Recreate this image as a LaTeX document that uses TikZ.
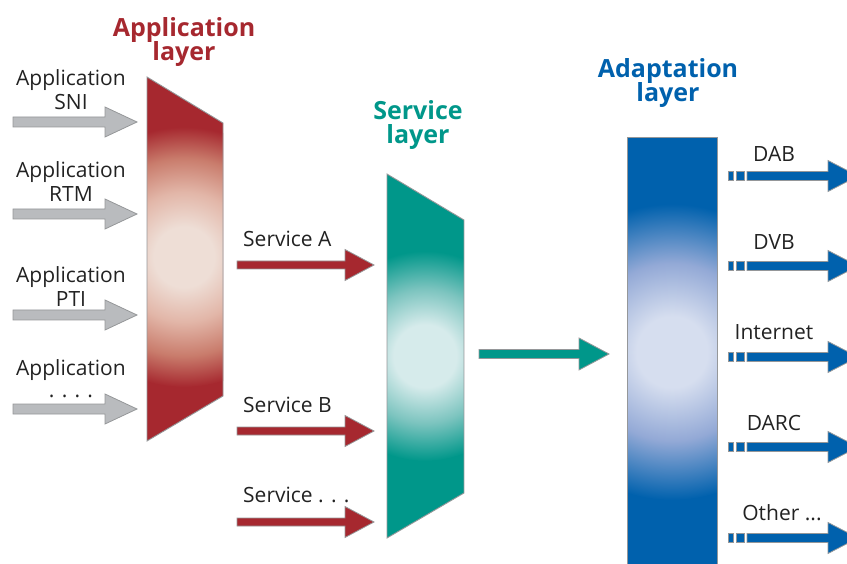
\documentclass[tikz,border=0pt]{standalone}
\usepackage{fontspec}
\setmainfont{Open Sans}
\definecolor{appD}{HTML}{A6282F}
\definecolor{appM1}{HTML}{E2B6A8}
\definecolor{appM2}{HTML}{C97C6C}
\definecolor{appL}{HTML}{EEDED6}
\definecolor{srvD}{HTML}{00978A}
\definecolor{srvM}{HTML}{7CC4BF}
\definecolor{srvL}{HTML}{D6EBEB}
\definecolor{adpD}{HTML}{0061AD}
\definecolor{adpM}{HTML}{93A9D6}
\definecolor{adpL}{HTML}{D6DEEF}
\definecolor{arrGray}{HTML}{B9BBBE}
\definecolor{edgeGray}{HTML}{959799}
\definecolor{txt}{HTML}{222222}
\pgfdeclareradialshading{appshade}{\pgfpoint{0bp}{0bp}}{color(0bp)=(appL); color(5.8bp)=(appL); color(12.5bp)=(appM1); color(19bp)=(appM2); color(25bp)=(appD); color(50bp)=(appD)}
\pgfdeclareradialshading{srvshade}{\pgfpoint{0bp}{0bp}}{color(0bp)=(srvL); color(7.5bp)=(srvL); color(16bp)=(srvM); color(25bp)=(srvD); color(50bp)=(srvD)}
\pgfdeclareradialshading{adpshade}{\pgfpoint{0bp}{0bp}}{color(0bp)=(adpL); color(6bp)=(adpL); color(15bp)=(adpM); color(25bp)=(adpD); color(50bp)=(adpD)}
\newcommand{\barr}[7]{%
  \filldraw[fill=#7, draw=edgeGray, line width=0.8pt, line join=miter]
    (#1,#4-#5) -- (#2,#4-#5) -- (#2,#4-#6) -- (#3,#4) -- (#2,#4+#6) -- (#2,#4+#5) -- (#1,#4+#5) -- cycle;}
\newcommand{\bluearr}[1]{%
  \filldraw[fill=adpD, draw=edgeGray, line width=0.8pt] (728,#1-4.5) rectangle (733,#1+4.5);
  \filldraw[fill=adpD, draw=edgeGray, line width=0.8pt] (736,#1-4.5) rectangle (744,#1+4.5);
  \barr{747}{828}{858}{#1}{4.5}{15.5}{adpD}}
\tikzset{
  lbl/.style={font=\fontsize{21}{21}\selectfont, text=txt, inner sep=0pt, anchor=base},
  ttl/.style={font=\fontsize{25}{25}\selectfont\bfseries, inner sep=0pt, anchor=base},
  layeredge/.style={draw=edgeGray, line width=0.9pt}
}
\begin{document}
\begin{tikzpicture}[x=1pt,y=-1pt]
\useasboundingbox (0,0) rectangle (847,564);
\clip (0,0) rectangle (847,564);
% ---- Application layer
\coordinate (a1) at (147,77); \coordinate (a2) at (223,123);
\coordinate (a3) at (223,396); \coordinate (a4) at (147,441);
\begin{scope}
  \clip (a1) -- (a2) -- (a3) -- (a4) -- cycle;
  \fill[appD] (a1) -- (a2) -- (a3) -- (a4) -- cycle;
  \shade[shading=appshade] (184,257) circle (130pt);
\end{scope}
\draw[layeredge] (a1) -- (a2) -- (a3) -- (a4) -- cycle;
% ---- Service layer
\coordinate (s1) at (387,174); \coordinate (s2) at (464,220);
\coordinate (s3) at (464,493); \coordinate (s4) at (387,538);
\begin{scope}
  \clip (s1) -- (s2) -- (s3) -- (s4) -- cycle;
  \fill[srvD] (s1) -- (s2) -- (s3) -- (s4) -- cycle;
  \shade[shading=srvshade] (425,356) circle (105pt);
\end{scope}
\draw[layeredge] (s1) -- (s2) -- (s3) -- (s4) -- cycle;
% ---- Adaptation layer
\coordinate (d1) at (627,137); \coordinate (d2) at (717,137);
\coordinate (d3) at (717,580); \coordinate (d4) at (627,580);
\begin{scope}
  \clip (d1) -- (d2) -- (d3) -- (d4) -- cycle;
  \fill[adpD] (d1) -- (d2) -- (d3) -- (d4) -- cycle;
  \shade[shading=adpshade] (672,352) circle (148pt);
\end{scope}
\draw[layeredge] (d1) -- (d2) -- (d3) -- (d4) -- cycle;
% ---- titles
\node[ttl, text=appD] (tA1) at (184,37) {Application};
\node[ttl, text=appD] (tA2) at (184,61) {layer};
\node[ttl, text=srvD] (tS1) at (418,120) {Service};
\node[ttl, text=srvD] (tS2) at (418,144) {layer};
\node[ttl, text=adpD] (tD1) at (668,78) {Adaptation};
\node[ttl, text=adpD] (tD2) at (668,102) {layer};
% ---- input applications
\node[lbl] (ap1) at (71,86) {Application};
\node[lbl] (ap1b) at (71,110) {SNI};
\node[lbl] (ap2) at (71,178) {Application};
\node[lbl] (ap2b) at (71,202) {RTM};
\node[lbl] (ap3) at (71,283) {Application};
\node[lbl] (ap3b) at (71,307) {PTI};
\node[lbl] (ap4) at (71,375) {Application};
\node[lbl] (ap4b) at (71,397) {. . . .};
\barr{13}{105}{137}{122}{5}{15}{arrGray}
\barr{13}{105}{137}{214}{5}{15}{arrGray}
\barr{13}{105}{137}{315}{5}{15}{arrGray}
\barr{13}{105}{137}{409}{5}{15}{arrGray}
% ---- services
\node[lbl, anchor=base west] (svA) at (243,247) {Service A};
\node[lbl, anchor=base west] (svB) at (243,412) {Service B};
\node[lbl, anchor=base west] (svC) at (243,502) {Service . . .};
\barr{237}{345}{374}{265}{4}{15.5}{appD}
\barr{237}{345}{374}{431}{4}{15.5}{appD}
\barr{237}{345}{374}{522}{4}{15.5}{appD}
% ---- service -> adaptation
\barr{479}{579}{609}{354}{4.5}{16}{srvD}
% ---- outputs
\node[lbl] (oDAB) at (774,162) {DAB};
\node[lbl] (oDVB) at (774,250) {DVB};
\node[lbl] (oInt) at (774,340) {Internet};
\node[lbl] (oDARC) at (774,430) {DARC};
\node[lbl] (oOth) at (782,520) {Other ...};
\bluearr{176}
\bluearr{266}
\bluearr{357}
\bluearr{447}
\bluearr{538}
\end{tikzpicture}
\end{document}
